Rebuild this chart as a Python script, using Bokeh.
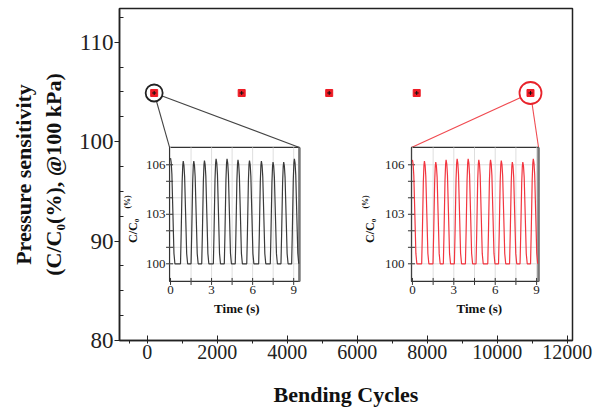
import math
from bokeh.plotting import figure
from bokeh.models import Range1d, FixedTicker, Title
from bokeh.core.properties import value
from bokeh.embed import file_html
from bokeh.resources import INLINE

# ---------------- data ----------------
cycles = [200, 2700, 5200, 7700, 10950]
sensitivity = [104.9, 104.9, 104.9, 104.9, 104.9]
x_ticks = [0, 2000, 4000, 6000, 8000, 10000, 12000]
x_minor = [-500, 1000, 3000, 5000, 7000, 9000, 11000]
y_ticks = [80, 90, 100, 110]
y_minor = [82.5, 85, 87.5, 92.5, 95, 97.5, 102.5, 105, 107.5, 112.5]

black_peak_t = [0.0, 0.93, 1.70, 2.48, 3.33, 4.13, 4.93, 5.77, 6.64, 7.49, 8.27, 9.05]
black_peak_v = [106.4, 106.22, 106.22, 106.26, 106.36, 106.36, 106.3, 106.26, 106.22, 106.16, 106.16, 106.36]
red_peak_t = [0.0, 0.87, 1.69, 2.44, 3.24, 4.04, 4.81, 5.66, 6.44, 7.24, 8.0, 8.76]
red_peak_v = [106.3, 106.22, 106.16, 106.3, 106.36, 106.36, 106.3, 106.3, 106.26, 106.16, 106.16, 106.36]
# pulse shape (time from peak, fraction of peak height above baseline)
pulse_dt = [-0.20, -0.15, -0.08, -0.035, 0.0, 0.05, 0.10, 0.17, 0.25, 0.32]
pulse_frac = [0.0, 0.3, 0.8, 0.96, 1.0, 0.96, 0.85, 0.5, 0.1, 0.0]
baseline = 100.0
inset_x_ticks = [0, 3, 6, 9]
inset_x_grid = [0, 1.5, 3, 4.5, 6, 7.5, 9]
inset_y_ticks = [100, 103, 106]
inset_y_grid = [100, 101, 102, 103, 104, 105, 106]

# ---------------- layout ----------------
X0, X1 = -790, 12150
Y0, Y1 = 80, 113.4
SERIF = "Liberation Serif"

p = figure(width=603, height=410, x_range=Range1d(X0, X1), y_range=Range1d(Y0, Y1),
           output_backend="svg", toolbar_location=None,
           min_border_left=119, min_border_right=31, min_border_top=8, min_border_bottom=70)
p.grid.visible = False
p.outline_line_color = "#222222"
p.outline_line_width = 1.5

p.xaxis.ticker = FixedTicker(ticks=x_ticks, minor_ticks=x_minor)
p.yaxis.ticker = FixedTicker(ticks=y_ticks, minor_ticks=y_minor)
for ax in (p.xaxis[0], p.yaxis[0]):
    ax.axis_line_color = "#222222"
    ax.axis_line_width = 1.5
    ax.major_tick_line_color = "#222222"
    ax.minor_tick_line_color = "#222222"
    ax.major_label_text_font = SERIF
    ax.major_label_text_color = "#222222"
    ax.axis_label_text_font = SERIF
    ax.axis_label_text_font_size = "22px"
    ax.axis_label_text_font_style = "bold"
    ax.axis_label_text_color = "#111111"
p.xaxis.major_label_text_font_size = "20px"
p.xaxis.major_tick_in = 5
p.xaxis.major_tick_out = 3
p.xaxis.minor_tick_in = 0
p.xaxis.minor_tick_out = 3
p.xaxis.major_label_standoff = 1
p.xaxis.axis_label = "Bending Cycles"
p.xaxis.axis_label_standoff = 20
p.yaxis.major_label_text_font_size = "23px"
p.yaxis.major_tick_in = 0
p.yaxis.major_tick_out = 5
p.yaxis.minor_tick_in = 4
p.yaxis.minor_tick_out = 0
p.yaxis.major_label_standoff = 1
p.yaxis.axis_label = "(C/C\u2080(%), @100 kPa)"
p.yaxis.axis_label_standoff = 10
p.add_layout(Title(text="Pressure sensitivity", align="center", text_font=SERIF, text_font_size="22px",
                   text_font_style="bold", text_color="#111111", standoff=4), "left")

# inset placement (main data coordinates) and inset data ranges
insets = [
    dict(name="L", box=(640, 4350, 85.94, 99.42), tr=(-0.07, 9.42), vr=(98.93, 107.05),
         t=black_peak_t, v=black_peak_v, color="#3a3a3a", src=0, circ="#222222", csize=17,
         lab_off=-37, tick_off=-4),
    dict(name="R", box=(7550, 11180, 85.94, 99.42), tr=(-0.07, 9.14), vr=(98.93, 107.05),
         t=red_peak_t, v=red_peak_v, color="#f2353f", src=4, circ="#e8232b", csize=22,
         lab_off=-41, tick_off=-7),
]

for ins in insets:
    bx0, bx1, by0, by1 = ins["box"]
    t0, t1 = ins["tr"]
    v0, v1 = ins["vr"]
    sx = (t1 - t0) / (bx1 - bx0)
    sy = (v1 - v0) / (by1 - by0)
    xn, yn = ins["name"] + "x", ins["name"] + "y"
    p.extra_x_ranges[xn] = Range1d(t0 + (X0 - bx0) * sx, t0 + (X1 - bx0) * sx)
    p.extra_y_ranges[yn] = Range1d(v0 + (Y0 - by0) * sy, v0 + (Y1 - by0) * sy)
    ins["xn"], ins["yn"] = xn, yn

# connecting lines (from point centre to inset top corners)
for ins in insets:
    bx0, bx1, by0, by1 = ins["box"]
    px, py = cycles[ins["src"]], sensitivity[ins["src"]]
    lc = "#444444" if ins["name"] == "L" else "#f04a50"
    p.segment(x0=[px, px], y0=[py, py], x1=[bx0, bx1], y1=[by1, by1], line_color=lc, line_width=1.1)

# highlight circles
for ins in insets:
    p.scatter(x=[cycles[ins["src"]]], y=[sensitivity[ins["src"]]], marker="circle", size=ins["csize"],
              fill_color="white", line_color=ins["circ"], line_width=1.8)

# main data points
p.scatter(x=cycles, y=sensitivity, marker="square", size=7, fill_color="#ee1c25", line_color="#ee1c25")
p.scatter(x=cycles, y=sensitivity, marker="cross", size=4, line_color="#111111", line_width=1)

# insets
for ins in insets:
    xn, yn = ins["xn"], ins["yn"]
    t0, t1 = ins["tr"]
    v0, v1 = ins["vr"]
    kw = dict(x_range_name=xn, y_range_name=yn)
    p.quad(left=[t0], right=[t1], bottom=[v0], top=[v1], fill_color="white",
           line_color="#333333", line_width=1.2, **kw)
    p.segment(x0=inset_x_grid, y0=[v0] * len(inset_x_grid), x1=inset_x_grid, y1=[v1] * len(inset_x_grid),
              line_color="#dedede", line_width=1, **kw)
    p.segment(x0=[t0] * len(inset_y_grid), y0=inset_y_grid, x1=[t1] * len(inset_y_grid), y1=inset_y_grid,
              line_color="#dedede", line_width=1, **kw)
    p.segment(x0=[t1], y0=[v0], x1=[t1], y1=[v1], line_color="#777777", line_width=2.5, **kw)
    p.scatter(x=inset_x_grid, y=[v0] * len(inset_x_grid), marker="dash", angle=math.pi / 2, size=7,
              line_color="#333333", line_width=1, **kw)
    p.scatter(x=[t0] * len(inset_y_grid), y=inset_y_grid, marker="dash", size=7,
              line_color="#333333", line_width=1, **kw)
    wt, wv = [], []
    for tp, vp in zip(ins["t"], ins["v"]):
        for dt, fr in zip(pulse_dt, pulse_frac):
            if tp + dt < 0:
                continue
            wt.append(tp + dt)
            wv.append(baseline + fr * (vp - baseline))
    p.line(x=wt, y=wv, line_color=ins["color"], line_width=1.2, **kw)
    p.text(x=inset_x_ticks, y=[v0] * len(inset_x_ticks), text=[str(t) for t in inset_x_ticks],
           y_offset=9, text_align="center", text_baseline="middle", text_font=value(SERIF),
           text_font_size="13px", text_color="#222222", **kw)
    p.text(x=[t0] * len(inset_y_ticks), y=inset_y_ticks, text=[str(v) for v in inset_y_ticks],
           x_offset=ins["tick_off"], text_align="right", text_baseline="middle", text_font=value(SERIF),
           text_font_size="13px", text_color="#222222", **kw)
    p.text(x=[4.85], y=[v0], text=["Time (s)"], y_offset=27, text_align="center", text_baseline="middle",
           text_font=value(SERIF), text_font_size="13px", text_font_style="bold", text_color="#111111", **kw)
    p.text(x=[t0], y=[102.0], text=["C/C\u2080"], x_offset=ins["lab_off"], angle=math.pi / 2,
           text_align="center", text_baseline="middle", text_font=value(SERIF), text_font_size="12px",
           text_font_style="bold", text_color="#111111", **kw)
    p.text(x=[t0], y=[103.75], text=["(%)"], x_offset=ins["lab_off"] - 5, angle=math.pi / 2,
           text_align="center", text_baseline="middle", text_font=value(SERIF), text_font_size="8px",
           text_font_style="bold", text_color="#111111", **kw)

open("out.html", "w").write(file_html(p, INLINE))
